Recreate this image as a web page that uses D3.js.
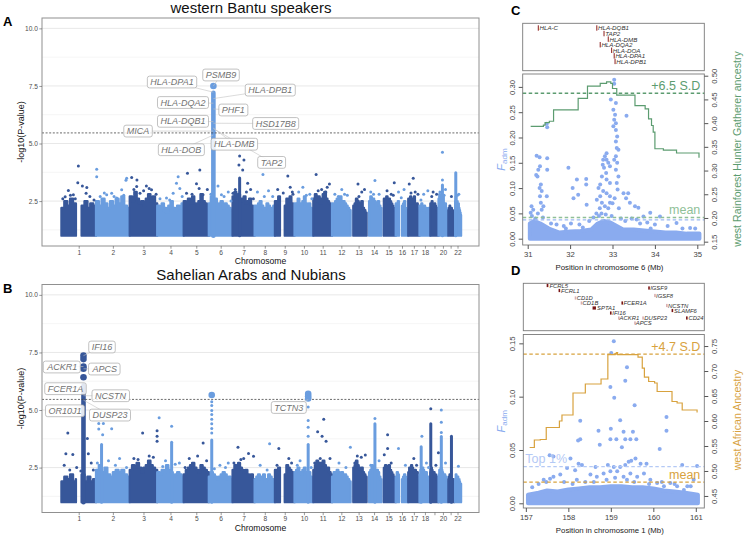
<!DOCTYPE html>
<html>
<head>
<meta charset="utf-8">
<script src="https://cdn.jsdelivr.net/npm/d3@7"></script>
<style>
  body { margin: 0; background: #fff; }
  svg text { font-family: "Liberation Sans", Arial, Helvetica, sans-serif; }
</style>
</head>
<body>
<svg id="fig" width="748" height="539"></svg>
<script>
// ---------------- data ----------------
// chromosome lengths (Mb) and the tick labels shown under the Manhattan plots
const chromLengths = [249.25, 243.2, 198.0, 191.15, 180.9, 171.1, 159.1, 146.4, 141.2, 135.5, 135.0,
                      133.85, 115.2, 107.35, 102.5, 90.35, 81.2, 78.1, 59.1, 63.0, 48.1, 51.3];
const chromTicks = ["1","2","3","4","5","6","7","8","9","10","11","12","13","14","15","16","17","18","","20","","22"];

// dense body of SNPs: -log10(P) height of the solid mass, samples along each chromosome (null = no SNPs)
const bantuBand = [
  [2.2,2.5,2.3,2.6,2.4,2.2,null,2.3,2.5,2.2,2.4,2.3],[2.5,2.3,2.6,2.4,2.2,2.5,2.3,2.6,2.4,2.7,2.3,2.2],
  [2.7,2.5,2.9,2.6,2.4,2.5,2.3,2.6,2.8,2.5,2.7,2.4],[2.3,2.1,2.4,2.2,2.0,2.3,2.5,2.2,2.1,2.3,2.2,2.4],
  [2.5,2.3,2.6,2.4,2.7,2.4,2.3,2.5,2.8,2.5,2.4,2.3],[2.4,2.7,2.5,2.6,2.3,2.4,2.5,2.2,2.4,2.3,2.2,2.1],
  [2.7,2.9,2.6,2.8,2.5,2.6,2.7,2.4,2.5,2.6,2.3,2.2],[2.3,2.2,2.4,2.5,2.3,2.1,2.2,2.4,2.3,2.2,2.1,2.3],
  [2.5,2.4,2.7,2.5,null,null,2.3,2.6,2.5,2.7,2.4,2.3],[2.4,2.3,2.6,2.4,2.3,2.5,2.7,2.4,2.3,2.4,2.2,2.1],
  [2.6,2.8,2.5,2.7,2.4,2.6,2.8,2.9,2.6,2.5,2.4,2.3],[2.4,2.2,2.5,2.6,2.4,2.7,2.3,2.5,2.4,2.3,2.2,2.1],
  [null,null,2.3,2.4,2.6,2.5,2.3,2.4,2.5,2.2,2.1,2.0],[null,null,2.5,2.7,2.4,2.6,2.5,2.3,2.4,2.5,2.3,2.2],
  [null,null,2.6,2.5,2.7,2.4,2.6,2.5,2.4,2.3,2.2,2.1],[2.4,2.3,2.5,2.2,null,null,2.3,2.4,2.5,2.2,2.1,2.0],
  [2.6,2.5,2.7,2.4,2.6,2.5,2.7,2.4,2.3,2.4,2.2,2.1],[2.3,2.2,2.4,2.1,2.2,2.3,2.1,2.2,2.0,2.1,2.2,2.0],
  [2.4,2.3,2.5,2.3,2.2,2.3,2.4,2.3,2.2,2.1,2.2,2.0],[2.6,2.8,2.5,2.4,2.6,2.5,2.7,2.4,2.3,2.4,2.2,2.1],
  [null,null,2.1,2.2,2.3,2.2,2.1,2.2,2.0,2.1,2.0,1.9],[null,null,2.5,2.7,2.4,2.5,2.3,2.4,2.2,2.1,2.0,1.9]
];
// [chromosome, Mb, -log10(P)] for SNPs above the dense body
const bantuPoints = [
  [1,122,4.02],[2,5,3.88],[2,5,3.56],[2,221,3.49],[3,14,3.52],[3,52,3.42],[4,151,3.56],[5,27,3.71],[5,116,3.85],
  [7,51,4.46],[7,46,4.07],[7,82,4.28],[7,73,3.85],[7,109,3.28],[8,60,3.66],[9,93,3.59],[11,20,3.66],
  [20,28,4.62],[11,116,3.24],[13,53,3.24],[14,60,3.39],[15,92,3.3],[17,36,3.49],[17,7,3.24],[20,28,3.42],
  [1,118,3.3],[1,151,3.16],[1,183,3.09],[1,178,2.84],[1,50,2.96],[1,86,2.77],[1,27,2.69],[2,77,2.77],
  [2,113,2.84],[2,149,2.63],[2,185,2.99],[2,216,3.4],[3,50,3.13],[3,74,2.84],[3,157,2.99],[3,174,2.63],
  [3,120,3.16],[4,139,3.27],[4,163,3.05],[4,115,2.84],[4,67,2.63],[5,20,2.84],[5,92,3.25],[5,111,3.05],
  [5,139,2.77],[6,66,3.16],[6,91,2.77],[6,140,2.9],[7,3,2.84],[7,130,3.0],[8,20,2.9],[8,100,2.95],
  [8,130,2.7],[9,20,3.0],[9,110,3.1],[9,130,2.8],[10,30,2.9],[10,60,3.1],[10,110,2.8],[11,60,3.0],
  [11,90,2.9],[12,20,2.8],[12,70,3.0],[12,110,2.75],[13,80,2.9],[13,100,3.0],[14,30,2.9],[14,90,2.8],
  [15,40,2.95],[15,70,2.8],[16,20,2.9],[16,60,3.0],[17,50,2.9],[17,70,2.8],[18,30,2.8],[18,60,2.95],
  [19,20,2.9],[19,45,2.8],[20,50,3.0],[21,30,2.7],[22,35,2.8],
  [1,10,2.6],[1,65,2.75],[1,100,2.6],[1,205,2.7],[1,235,2.55],[2,30,2.7],[2,60,2.85],[2,130,2.7],[2,200,2.75],
  [3,30,3.0],[3,100,2.95],[3,140,3.05],[3,190,2.8],[4,20,2.6],[4,90,2.55],[4,180,2.7],[5,60,2.8],[5,170,3.0],
  [6,15,2.8],[6,110,2.7],[6,160,2.5],[7,20,3.0],[7,100,2.9],[7,150,2.6],[8,70,2.7],[9,60,2.85],[9,125,2.9],
  [10,85,2.75],[10,125,2.6],[11,35,2.95],[11,100,3.1],[12,45,2.7],[12,90,2.8],[13,60,2.7],[14,50,2.8],
  [15,85,2.75],[16,40,2.65],[17,20,2.85],[18,10,2.55],[19,10,2.7],[20,10,2.9],[20,40,2.75],[22,25,2.75]
];
// [chromosome, Mb, top -log10(P), significant] stacks of SNPs that form a solid column
const bantuColumns = [[6,32.9,7.2,true],[7,51,3.5,false],[20,28,3.2,false],[22,13,3.73,false]];
const bantuHits = [[6,32.9,7.5]];
// [gene, chromosome, Mb, -log10(P) of SNP, label shift along genome (Mb), label -log10(P)]
const bantuLabels = [
  ["PSMB9",6,32.9,7.5,55,7.975],["HLA-DPA1",6,32.9,7.23,-298,7.67],["HLA-DPB1",6,32.9,6.95,410,7.32],
  ["HLA-DQA2",6,32.9,6.75,-219,6.78],["PHF1",6,32.9,6.5,144,6.455],["HLA-DQB1",6,32.9,5.95,-219,5.965],
  ["HSD17B8",6,32.9,5.88,449,5.87],["MICA",6,32.9,5.54,-543,5.54],["HLA-DMB",6,32.9,5.67,151,4.97],
  ["HLA-DOB",6,32.9,5.37,-231,4.73],["TAP2",6,32.9,5.65,420,4.18]
];

const sahelBand = [
  [1.9,2.1,2.0,2.2,1.9,2.0,null,2.2,1.9,2.1,1.9,2.0],[2.4,2.6,2.3,2.5,2.2,2.1,2.3,2.4,2.3,2.4,2.2,2.1],
  [2.4,2.6,2.5,2.7,2.5,2.3,2.5,2.6,2.8,2.6,2.5,2.4],[2.3,2.2,2.4,2.3,2.6,2.4,2.3,2.1,2.2,2.3,2.2,2.1],
  [2.2,2.4,2.5,2.6,2.7,2.5,2.4,2.3,2.6,2.5,2.4,2.3],[2.1,2.3,2.2,2.1,2.0,2.1,2.2,2.3,2.2,2.0,2.1,2.0],
  [2.4,2.6,2.5,2.7,2.5,2.4,2.3,2.4,2.2,2.1,2.2,2.0],[2.0,2.1,2.2,2.0,2.1,2.2,1.9,2.0,2.2,2.1,2.0,1.9],
  [2.4,2.3,2.5,2.4,null,null,2.2,2.6,2.5,2.4,2.3,2.2],[2.3,2.4,2.5,2.3,2.2,2.4,2.5,2.3,2.2,2.3,2.1,2.0],
  [2.4,2.6,2.8,2.5,2.7,2.6,2.8,2.6,2.4,2.5,2.3,2.2],[2.1,2.3,2.2,2.4,2.3,2.2,2.3,2.1,2.2,2.1,2.0,1.9],
  [null,null,2.5,2.6,2.8,2.6,2.5,2.4,2.5,2.3,2.2,2.1],[null,null,2.3,2.4,2.6,2.4,2.3,2.2,2.4,2.3,2.1,2.0],
  [null,null,2.5,2.6,2.4,2.5,2.6,2.4,2.3,2.2,2.1,2.0],[2.1,2.3,2.2,2.1,null,null,2.0,2.1,2.2,2.1,2.0,1.9],
  [2.3,2.5,2.4,2.6,2.5,2.4,2.3,2.4,2.2,2.3,2.1,2.0],[2.2,2.4,2.3,2.5,2.4,2.3,2.2,2.3,2.1,2.0,2.1,1.9],
  [2.3,2.5,2.4,2.3,2.2,2.3,2.1,2.2,2.1,2.0,2.1,1.9],[2.2,2.4,2.3,2.5,2.4,2.3,2.2,2.1,2.2,2.0,2.1,1.9],
  [null,null,2.0,2.1,2.2,2.1,2.0,1.9,2.0,1.9,2.0,1.8],[null,null,2.0,2.2,2.1,2.0,2.1,1.9,2.0,1.9,1.8,1.8]
];
const sahelPoints = [
  [1,46,4.0],[1,82,3.07],[1,32,3.1],[1,187,3.76],[1,194,3.1],[2,20,4.41],[2,53,4.41],[2,20,4.18],[2,113,4.19],
  [2,48,3.93],[3,93,4.0],[3,197,4.1],[3,197,3.86],[3,197,3.64],[4,14,4.66],[4,104,4.3],[5,140,3.57],
  [6,21,5.36],[6,21,5.2],[6,21,4.98],[6,21,4.8],[6,21,4.6],[6,21,4.4],[6,21,4.2],[6,21,4.0],
  [7,39,3.38],[7,115,3.11],[7,151,2.99],[8,108,3.54],[9,28,3.33],[10,98.4,5.13],[10,98.4,4.55],
  [10,98.4,4.25],[10,98.4,3.86],[11,31,4.06],[11,75,4.6],[11,63,3.86],[11,92,3.64],[12,132,3.38],
  [13,48,3.0],[13,77,2.95],[13,106,3.05],[14,60,4.63],[15,44,3.93],[15,20,3.06],[15,44,3.33],[16,20,3.33],
  [18,17,3.86],[19,3,5.06],[19,58,3.14],[20,20,5.0],[20,20,4.47],[20,20,4.02],[22,32,2.56],
  [1,20,2.6],[1,110,2.5],[1,215,2.7],[2,90,2.8],[2,170,2.9],[3,30,2.9],[3,140,3.0],[4,60,2.8],[4,160,2.7],
  [5,40,2.9],[5,100,3.0],[6,80,2.6],[6,140,2.7],[7,80,2.9],[8,40,2.6],[9,100,2.9],[10,40,2.8],[11,120,2.9],
  [12,50,2.7],[14,90,2.8],[16,70,2.6],[17,40,2.9],[18,50,2.7],[20,50,2.7],
  [1,60,2.4],[1,140,2.35],[1,230,2.4],[2,10,2.7],[2,140,2.6],[2,220,2.5],[3,60,2.85],[3,170,2.95],
  [4,40,2.55],[4,130,2.65],[5,10,2.5],[5,165,2.8],[6,40,2.45],[6,120,2.5],[7,10,2.7],[7,60,2.85],
  [8,90,2.4],[9,15,2.6],[9,120,2.7],[10,20,2.6],[10,120,2.5],[11,10,2.7],[11,50,2.9],[12,100,2.5],
  [13,30,2.7],[14,30,2.6],[15,70,2.7],[17,60,2.6],[18,65,2.5],[19,40,2.6]
];
const sahelColumns = [[1,159,6.06,true],[2,40,3.5,false],[4,104,3.6,false],[6,21,3.7,false],[10,98.4,3.5,false],
  [14,60,4.4,false],[18,12,3.4,false],[19,3,4.4,false],[20,20,3.85,false],[21,30,3.86,false]];
const sahelHits = [[1,159,7.36],[1,159,7.21],[1,159,6.89],[1,159,6.79],[1,159,6.42],[6,21,5.65],
  [10,98.4,5.7],[10,98.4,5.6],[10,98.4,5.5]];
const sahelLabels = [
  ["IFI16",1,159,7.36,133.5,7.736],["ACKR1",1,159,6.89,-152.7,6.868],["APCS",1,159,6.79,153.7,6.78],
  ["FCER1A",1,159,6.0,-129.6,5.926],["NCSTN",1,159,5.62,194.8,5.62],["OR10J1",1,159,5.2,-133.2,4.966],
  ["DUSP23",1,159,5.43,191.2,4.78],["TCTN3",10,98.4,5.45,-139.7,5.11]
];

// ---- panel C: chromosome 6 ----
const c6Genes = [["HLA-C",31.25,0],["HLA-DQB1",32.63,0],["TAP2",32.80,1],["HLA-DMB",32.90,2],
  ["HLA-DQA2",32.71,3],["HLA-DOA",32.98,4],["HLA-DPA1",33.04,5],["HLA-DPB1",33.06,6]];
const c6BandMb  = [31.05,31.15,31.3,31.5,31.75,32.0,32.25,32.5,32.65,32.8,32.95,33.1,33.25,33.5,33.75,34.0,34.25,34.5,34.75,35.05];
const c6BandTop = [0.03,0.035,0.03,0.02,0.012,0.014,0.015,0.018,0.03,0.035,0.032,0.025,0.018,0.018,0.016,0.014,0.012,0.012,0.01,0.01];
const c6Points = [
  [33.04,0.314],[33.04,0.306],[32.96,0.275],[33.08,0.268],[33.02,0.255],[33.06,0.245],[33.04,0.235],
  [33.08,0.228],[33.02,0.222],[33.08,0.215],[33.11,0.202],[33.08,0.192],[33.10,0.179],[33.14,0.176],
  [33.08,0.163],[33.04,0.156],[33.11,0.15],[33.08,0.136],[33.14,0.123],[33.10,0.11],[33.12,0.097],
  [33.33,0.243],[32.86,0.169],[32.82,0.163],[32.78,0.156],[32.77,0.146],[32.80,0.14],[32.86,0.156],
  [32.90,0.15],[32.94,0.143],[32.85,0.13],[32.75,0.123],[32.86,0.117],[32.94,0.11],[32.71,0.107],
  [32.67,0.10],[32.78,0.094],[32.86,0.09],[32.94,0.084],[32.71,0.084],[32.63,0.077],[32.75,0.071],
  [32.82,0.064],[32.94,0.071],[31.21,0.164],[31.28,0.161],[31.20,0.126],[31.23,0.123],[31.29,0.143],
  [31.25,0.136],[31.31,0.107],[31.28,0.10],[31.33,0.094],[31.29,0.084],[31.31,0.071],[31.33,0.057],
  [31.46,0.159],[31.46,0.136],[31.45,0.084],[31.37,0.064],[31.45,0.227],[31.46,0.220],[31.96,0.14],
  [32.16,0.117],[32.38,0.118],[32.38,0.107],[32.06,0.10],[32.19,0.087],[32.39,0.067],[32.08,0.08],
  [33.26,0.09],[33.37,0.09],[33.32,0.08],[33.41,0.071],[33.53,0.064],[33.61,0.061],[33.57,0.038],
  [33.73,0.044],[33.89,0.051],[34.12,0.044],[34.51,0.031],[34.83,0.021],[31.09,0.064],[31.13,0.057],
  [31.07,0.051],[32.70,0.06],[32.74,0.05],[32.90,0.06],[33.00,0.07],[33.05,0.08],[33.15,0.06],
  [31.10,0.045],[31.18,0.04],[31.24,0.05],[31.36,0.042],[31.55,0.03],[31.68,0.028],[31.85,0.025],
  [32.02,0.03],[32.22,0.028],[32.45,0.035],[32.55,0.042],[32.62,0.05],[32.68,0.045],[32.84,0.048],
  [32.98,0.045],[33.2,0.04],[33.3,0.035],[33.45,0.04],[33.65,0.03],[33.82,0.032],[34.0,0.028],
  [34.3,0.025],[34.65,0.02],[34.95,0.02],[31.9,0.02],[32.3,0.022],[33.9,0.02]
];
const c6AncestryMb = [31.07,31.30,31.37,31.41,31.51,31.61,32.19,32.41,32.71,32.86,32.96,33.00,33.10,33.53,33.77,
  33.85,33.92,33.96,34.00,34.20,34.51,35.02,35.04];
const c6Ancestry = [0.393,0.393,0.396,0.401,0.404,0.428,0.452,0.478,0.484,0.487,0.484,0.473,0.459,0.437,0.430,
  0.409,0.395,0.381,0.346,0.343,0.337,0.337,0.327];

// ---- panel D: chromosome 1 ----
// [gene, start Mb, end Mb, row, selected]
const c1Genes = [["FCRL5",157.49,157.53,0,true],["IGSF9",159.88,159.90,1,true],["FCRL1",157.77,157.80,2,true],
  ["IGSF8",160.02,160.04,4,false],["CD1D",158.15,158.17,5,false],["CD1B",158.29,158.31,7,false],
  ["FCER1A",159.25,159.27,7,true],["NCSTN",160.30,160.32,8,false],["SPTA1",158.57,158.65,9,true],
  ["SLAMF6",160.43,160.46,10,true],["IFI16",158.98,159.01,11,true],["DUSP23",159.74,159.76,13,false],
  ["ACKR1",159.17,159.18,13,false],["CD24",160.77,160.80,13,true],["APCS",159.55,159.56,15,false]];
const c1BandMb  = [157.05,157.3,157.5,157.75,158.0,158.25,158.5,158.75,159.0,159.25,159.5,159.75,160.0,160.25,160.5,160.75,161.05];
const c1BandTop = [0.008,0.01,0.012,0.011,0.013,0.014,0.015,0.015,0.016,0.016,0.015,0.015,0.014,0.012,0.011,0.01,0.008];
const c1Points = [
  [159.07,0.152],[159.01,0.141],[158.99,0.109],[159.08,0.099],[159.38,0.1275],[159.34,0.115],[159.56,0.092],
  [158.28,0.0775],[160.31,0.081],[160.31,0.068],[159.22,0.078],[159.0,0.070],[158.71,0.068],[158.99,0.06],
  [159.13,0.06],[159.30,0.067],[159.34,0.06],[159.46,0.06],[159.52,0.067],[159.60,0.06],[158.28,0.06],
  [158.23,0.059],[158.74,0.055],[159.26,0.0525],[160.15,0.051],[157.56,0.045],[157.65,0.044],[158.05,0.042],
  [158.24,0.037],[158.32,0.036],[158.64,0.034],[158.93,0.036],[159.07,0.034],[159.22,0.034],[159.34,0.036],
  [159.42,0.039],[159.48,0.04],[159.58,0.042],[159.70,0.037],[159.84,0.037],[160.68,0.036],[161.03,0.035],
  [157.97,0.033],[158.16,0.031],[157.81,0.027],[157.65,0.025],[157.42,0.022],[157.57,0.023],[158.2,0.022],
  [158.52,0.027],[158.67,0.025],[158.83,0.028],[158.99,0.03],[159.15,0.03],[159.30,0.025],[159.46,0.028],
  [159.62,0.025],[159.78,0.028],[159.93,0.022],[160.09,0.019],[160.25,0.016],[160.40,0.019],[160.56,0.016],
  [160.72,0.0125],[160.88,0.016],[160.95,0.022],
  [157.15,0.015],[157.3,0.018],[157.48,0.02],[157.9,0.02],[158.1,0.018],[158.4,0.02],[158.6,0.02],
  [158.9,0.022],[159.1,0.024],[159.38,0.022],[159.55,0.02],[159.9,0.018],[160.2,0.02],[160.5,0.018],[160.8,0.016]
];
const c1AncestryMb = [157.09,157.17,157.2,157.34,157.48,157.79,157.85,158.11,158.40,158.77,158.93,159.10,159.13,
  159.16,159.62,159.64,159.74,159.79,159.89,160.03,160.09,160.44,160.56,160.68,160.98,161.03];
const c1Ancestry = [0.547,0.547,0.562,0.563,0.587,0.600,0.612,0.656,0.674,0.684,0.733,0.735,0.737,0.733,0.733,
  0.728,0.706,0.688,0.679,0.676,0.659,0.639,0.636,0.622,0.622,0.617];

// ---------------- drawing ----------------
const svg = d3.select("#fig");
const dark = "#37579a", light = "#6a9ddf";
const ptBlue = "#8aabef", green = "#5c9c70", gold = "#d8a23e";
const chromStart = d3.cumsum([0, ...chromLengths]);

function manhattan(p) {
  const g = svg.append("g");
  const x = d3.scaleLinear().domain([-140, 3010]).range([p.left, p.right]);
  const y = d3.scaleLinear().domain([0.55, 10.45]).range([p.bottom, p.top]);
  const gx = (c, mb) => x(chromStart[c - 1] + mb);
  const col = c => (c % 2 ? dark : light);

  g.selectAll("line.minor").data([1.25, 3.75, 6.25, 8.75]).join("line")
    .attr("x1", p.left).attr("x2", p.right).attr("y1", d => y(d)).attr("y2", d => y(d))
    .attr("stroke", "#eeeeee").attr("stroke-width", 0.6);
  g.selectAll("line.major").data([2.5, 5, 7.5, 10]).join("line")
    .attr("x1", p.left).attr("x2", p.right).attr("y1", d => y(d)).attr("y2", d => y(d))
    .attr("stroke", "#e2e2e2").attr("stroke-width", 0.8);

  // dense body of each chromosome, drawn as a skyline of the sampled heights
  p.band.forEach((hs, i) => {
    const len = chromLengths[i], n = hs.length;
    const pts = hs.map((h, j) => [j * len / n + 0.4, h]).concat([[len - 0.4, hs[n - 1]]]);
    const area = d3.area().defined(d => d[1] != null).curve(d3.curveStepAfter)
      .x(d => gx(i + 1, d[0])).y0(y(1.0)).y1(d => y(d[1]));
    g.append("path").attr("d", area(pts)).attr("fill", col(i + 1))
      .attr("stroke", col(i + 1)).attr("stroke-width", 2.4).attr("stroke-linejoin", "round");
  });

  p.columns.forEach(([c, mb, top, sig]) => {
    g.append("line").attr("x1", gx(c, mb)).attr("x2", gx(c, mb))
      .attr("y1", y(1.0)).attr("y2", y(top))
      .attr("stroke", col(c)).attr("stroke-width", sig ? 4.6 : 3).attr("stroke-linecap", "round");
  });

  g.selectAll("circle.snp").data(p.points).join("circle")
    .attr("cx", d => gx(d[0], d[1])).attr("cy", d => y(d[2])).attr("r", 1.5)
    .attr("fill", d => col(d[0]));

  g.append("line").attr("x1", p.left).attr("x2", p.right)
    .attr("y1", y(5.46)).attr("y2", y(5.46))
    .attr("stroke", "#444").attr("stroke-width", 0.8).attr("stroke-dasharray", "2,1.6");

  g.selectAll("circle.hit").data(p.hits).join("circle")
    .attr("cx", d => gx(d[0], d[1])).attr("cy", d => y(d[2])).attr("r", 3.3)
    .attr("fill", d => col(d[0]));

  // gene labels
  p.labels.forEach(([gene, c, mb, pv, dx, ly]) => {
    g.append("line").attr("x1", gx(c, mb)).attr("y1", y(pv))
      .attr("x2", gx(c, mb + dx)).attr("y2", y(ly))
      .attr("stroke", "#c2c2c2").attr("stroke-width", 0.6);
  });
  p.labels.forEach(([gene, c, mb, pv, dx, ly]) => {
    const lg = g.append("g");
    const t = lg.append("text").attr("x", gx(c, mb + dx)).attr("y", y(ly) + 3.2)
      .attr("text-anchor", "middle").attr("font-size", 9).attr("font-style", "italic")
      .attr("fill", "#727272").text(gene);
    const bb = t.node().getBBox();
    lg.insert("rect", "text").attr("x", bb.x - 3).attr("y", y(ly) - 5.9)
      .attr("width", bb.width + 6).attr("height", 11.8).attr("rx", 2.2)
      .attr("fill", "#fff").attr("fill-opacity", 0.85)
      .attr("stroke", "#a8a8a8").attr("stroke-width", 0.7);
  });

  g.append("rect").attr("x", p.left).attr("y", p.top)
    .attr("width", p.right - p.left).attr("height", p.bottom - p.top)
    .attr("fill", "none").attr("stroke", "#909090").attr("stroke-width", 1);

  const yAxis = d3.axisLeft(y).tickValues([2.5, 5, 7.5, 10]).tickFormat(d3.format(".1f")).tickSize(2.7).tickPadding(1.5);
  const ya = g.append("g").attr("transform", `translate(${p.left},0)`).call(yAxis);
  const centers = chromLengths.map((len, i) => chromStart[i] + len / 2);
  const xAxis = d3.axisBottom(x).tickValues(centers).tickFormat((d, i) => chromTicks[i]).tickSize(2.7).tickPadding(1.5);
  const xa = g.append("g").attr("transform", `translate(0,${p.bottom})`).call(xAxis);
  [ya, xa].forEach(a => {
    a.select(".domain").remove();
    a.selectAll(".tick line").attr("stroke", "#555").attr("stroke-width", 0.6);
    a.selectAll(".tick text").attr("fill", "#4d4d4d").attr("font-size", 6.6)
      .attr("font-family", '"Liberation Sans", Arial, sans-serif');
  });

  g.append("text").attr("x", 251).attr("y", p.top - 5).attr("text-anchor", "middle")
    .attr("font-size", 15).attr("fill", "#111").text(p.title);
  g.append("text").attr("x", (p.left + p.right) / 2).attr("y", p.bottom + 18).attr("text-anchor", "middle")
    .attr("font-size", 8.6).attr("fill", "#111").text("Chromosome");
  g.append("text").attr("transform", `translate(23.5,${(p.top + p.bottom) / 2}) rotate(-90)`)
    .attr("text-anchor", "middle").attr("font-size", 9).attr("fill", "#111").text("-log10(P-value)");
  g.append("text").attr("x", 3).attr("y", p.top + 8).attr("font-size", 13).attr("font-weight", "bold")
    .text(p.letter);
}

function fadmPanel(p) {
  const g = svg.append("g");
  const x = d3.scaleLinear().domain(p.xDomain).range([p.left, p.right]);
  const yl = d3.scaleLinear().domain(p.yLeft).range([p.bottom, p.top]);
  const yr = d3.scaleLinear().domain(p.yRight).range([p.bottom, p.top]);

  // gene track
  g.append("rect").attr("x", p.left).attr("y", p.geneTop).attr("width", p.right - p.left)
    .attr("height", p.geneBottom - p.geneTop).attr("fill", "none").attr("stroke", "#7a7a7a").attr("stroke-width", 0.9);
  p.genes.forEach(gn => p.drawGene(g, x, gn));

  // F_adm scatter
  const area = d3.area().x(d => x(d[0])).y0(yl(0)).y1(d => yl(d[1]));
  g.append("path").attr("d", area(d3.zip(p.bandMb, p.bandTop))).attr("fill", ptBlue)
    .attr("stroke", ptBlue).attr("stroke-width", 4).attr("stroke-linejoin", "round");
  g.selectAll("circle.f").data(p.points).join("circle")
    .attr("cx", d => x(d[0])).attr("cy", d => yl(d[1])).attr("r", 2).attr("fill", ptBlue);

  // reference lines
  p.refs.forEach(r => {
    const yy = r.axis === "left" ? yl(r.v) : yr(r.v);
    g.append("line").attr("x1", p.left).attr("x2", p.right).attr("y1", yy).attr("y2", yy)
      .attr("stroke", r.color).attr("stroke-width", 1.3).attr("stroke-dasharray", "3.5,2.5");
    if (r.text) g.append("text").attr("x", r.anchor === "start" ? p.left + 2 : p.right - 4)
      .attr("y", yy - 3.5).attr("text-anchor", r.anchor).attr("font-size", 12.5)
      .attr("fill", r.color).text(r.text);
  });

  // ancestry
  const line = d3.line().x(d => x(d[0])).y(d => yr(d[1])).curve(d3.curveStepAfter);
  g.append("path").attr("d", line(d3.zip(p.ancMb, p.anc))).attr("fill", "none")
    .attr("stroke", p.ancColor).attr("stroke-width", 1.2);

  g.append("rect").attr("x", p.left).attr("y", p.top).attr("width", p.right - p.left)
    .attr("height", p.bottom - p.top).attr("fill", "none").attr("stroke", "#7a7a7a").attr("stroke-width", 0.9);

  const tickStyle = a => {
    a.select(".domain").remove();
    a.selectAll(".tick line").attr("stroke", "#555");
    a.selectAll(".tick text").attr("fill", "#444").attr("font-size", 7.7)
      .attr("font-family", '"Liberation Sans", Arial, sans-serif');
  };
  const xa = g.append("g").attr("transform", `translate(0,${p.bottom})`)
    .call(d3.axisBottom(x).tickValues(p.xTicks).tickFormat(d3.format("d")).tickSize(4).tickSizeOuter(0).tickPadding(3));
  tickStyle(xa);

  const la = g.append("g").attr("transform", `translate(${p.left},0)`)
    .call(d3.axisLeft(yl).tickValues(p.leftTicks).tickFormat(d3.format(".2f")).tickSize(4).tickSizeOuter(0));
  tickStyle(la);
  la.selectAll(".tick text").attr("text-anchor", "middle").attr("x", 0).attr("dy", 0)
    .attr("transform", "translate(-8,0) rotate(-90)");

  const ra = g.append("g").attr("transform", `translate(${p.right},0)`)
    .call(d3.axisRight(yr).tickValues(p.rightTicks).tickFormat(d3.format(".2f")).tickSize(4).tickSizeOuter(0));
  tickStyle(ra);
  ra.selectAll(".tick text").attr("text-anchor", "middle").attr("x", 0).attr("dy", 0)
    .attr("transform", "translate(13,0) rotate(-90)");

  g.append("text").attr("x", (p.left + p.right) / 2 - 4).attr("y", p.bottom + 25).attr("text-anchor", "middle")
    .attr("font-size", 7.8).attr("fill", "#222").text(p.xTitle);
  const ft = g.append("text").attr("transform", `translate(505,${(p.top + p.bottom) / 2}) rotate(-90)`)
    .attr("text-anchor", "middle").attr("font-size", 11).attr("fill", ptBlue);
  ft.append("tspan").attr("font-style", "italic").text("F");
  ft.append("tspan").attr("font-size", 8).attr("dy", 2).text("adm");
  g.append("text").attr("transform", `translate(741,${p.ancTitleY}) rotate(-90)`)
    .attr("text-anchor", "middle").attr("font-size", 10.6).attr("fill", p.ancColor).text(p.ancTitle);
  g.append("text").attr("x", 511).attr("y", p.geneTop - 8).attr("font-size", 13).attr("font-weight", "bold")
    .text(p.letter);
}

manhattan({ left: 42, right: 479, top: 18, bottom: 246, title: "western Bantu speakers", letter: "A",
  band: bantuBand, points: bantuPoints, columns: bantuColumns, hits: bantuHits, labels: bantuLabels });
manhattan({ left: 42, right: 479, top: 284.5, bottom: 512.5, title: "Sahelian Arabs and Nubians", letter: "B",
  band: sahelBand, points: sahelPoints, columns: sahelColumns, hits: sahelHits, labels: sahelLabels });

fadmPanel({
  letter: "C", left: 522.7, right: 704.3, top: 74, bottom: 245, geneTop: 23.3, geneBottom: 70.7,
  xDomain: [30.882, 35.165], yLeft: [-0.0125, 0.3255], yRight: [0.143, 0.5036],
  xTicks: [31, 32, 33, 34, 35], leftTicks: [0, 0.05, 0.1, 0.15, 0.2, 0.25, 0.3],
  rightTicks: [0.15, 0.2, 0.25, 0.3, 0.35, 0.4, 0.45, 0.5],
  genes: c6Genes, bandMb: c6BandMb, bandTop: c6BandTop, points: c6Points,
  ancMb: c6AncestryMb, anc: c6Ancestry, ancColor: green,
  ancTitle: "west Rainforest Hunter Gatherer ancestry", ancTitleY: 149,
  xTitle: "Position in chromosome 6 (Mb)",
  refs: [
    { axis: "right", v: 0.463, color: green, text: "+6.5 S.D", anchor: "end" },
    { axis: "right", v: 0.201, color: "#8fbf98", text: "mean", anchor: "end" },
    { axis: "left", v: 0.037, color: "#9db9f2" }
  ],
  drawGene: (g, x, [name, mb, row]) => {
    const yy = 28.3 + row * 5.57;
    g.append("line").attr("x1", x(mb)).attr("x2", x(mb)).attr("y1", yy - 3).attr("y2", yy + 2.4)
      .attr("stroke", "#8b1c1c").attr("stroke-width", 1);
    g.append("text").attr("x", x(mb) + 1.2).attr("y", yy + 2.1).attr("font-size", 6.2)
      .attr("font-style", "italic").attr("fill", "#333").text(name);
  }
});

fadmPanel({
  letter: "D", left: 523.3, right: 704.3, top: 334.5, bottom: 508, geneTop: 283.3, geneBottom: 330.7,
  xDomain: [156.94, 161.2], yLeft: [-0.0044, 0.1583], yRight: [0.4259, 0.7731],
  xTicks: [157, 158, 159, 160, 161], leftTicks: [0, 0.05, 0.1, 0.15],
  rightTicks: [0.45, 0.5, 0.55, 0.6, 0.65, 0.7, 0.75],
  genes: c1Genes, bandMb: c1BandMb, bandTop: c1BandTop, points: c1Points,
  ancMb: c1AncestryMb, anc: c1Ancestry, ancColor: gold,
  ancTitle: "west African Ancestry", ancTitleY: 420,
  xTitle: "Position in chromosome 1 (Mb)",
  refs: [
    { axis: "right", v: 0.734, color: gold, text: "+4.7 S.D", anchor: "end" },
    { axis: "right", v: 0.4775, color: gold, text: "mean", anchor: "end" },
    { axis: "left", v: 0.0344, color: "#b4c9f5", text: "Top 1%", anchor: "start" }
  ],
  drawGene: (g, x, [name, s, e, row, hit]) => {
    const yy = 285.5 + row * 2.5;
    g.append("rect").attr("x", x(s)).attr("y", yy - 1.6).attr("width", Math.max(1.6, x(e) - x(s)))
      .attr("height", 3.2).attr("fill", hit ? "#7a1616" : "#d8aeb0");
    g.append("text").attr("x", x(e) + 1.1).attr("y", yy + 2.1).attr("font-size", 5.9)
      .attr("font-style", "italic").attr("fill", "#333").text(name);
  }
});
</script>
</body>
</html>
